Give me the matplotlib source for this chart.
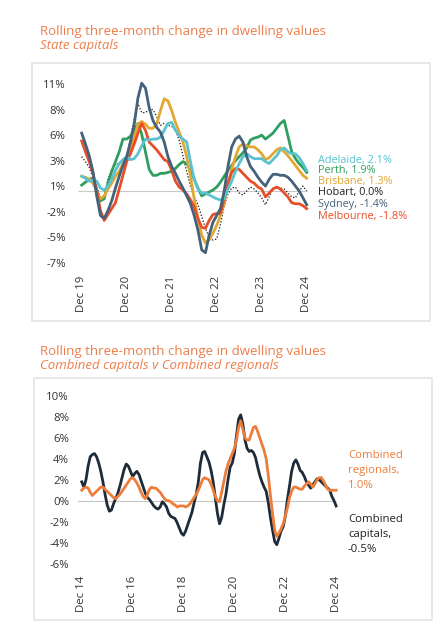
import matplotlib
matplotlib.use("Agg")
import matplotlib.pyplot as plt
import numpy as np

plt.rcParams['font.family'] = ['Open Sans', 'DejaVu Sans']

# ---------------- Data: state capitals, monthly Dec 2019 - Dec 2024 ----------------
cap_x_ticklabels = ["Dec 19", "Dec 20", "Dec 21", "Dec 22", "Dec 23", "Dec 24"]
cap_y_ticks = [-7.3, -4.7, -2.1, 0.5, 3.1, 5.7, 8.3, 10.9]
cap_y_ticklabels = ["-7%", "-5%", "-2%", "1%", "3%", "6%", "8%", "11%"]

sydney = [5.9, 4.8, 3.6, 2.0, -0.5, -2.5, -2.8, -2.0, -1.0, 0.3, 1.5, 2.6, 3.5, 5.0, 6.8, 9.5,
          11.0, 10.5, 8.5, 7.2, 6.5, 6.0, 5.0, 3.5, 2.5, 1.8, 1.0, 0.3, -0.5, -1.3, -2.5, -4.0,
          -6.0, -6.3, -4.5, -3.2, -2.5, -1.8, 0.0, 2.5, 4.5, 5.3, 5.6, 5.0, 3.5, 2.5, 2.0, 1.4,
          0.9, 0.5, 1.2, 1.7, 1.7, 1.6, 1.6, 1.4, 1.0, 0.5, 0.0, -0.7, -1.4]
melbourne = [5.1, 4.0, 3.0, 1.8, 0.0, -2.0, -3.0, -2.4, -1.8, -1.2, 0.2, 1.6, 3.0, 3.8, 4.8, 5.9,
             6.9, 6.2, 5.0, 4.6, 4.2, 3.7, 3.2, 3.0, 2.1, 1.0, 0.4, 0.1, -0.3, -0.9, -1.6, -2.8,
             -3.7, -3.8, -3.0, -2.4, -2.3, -2.3, -0.8, 0.8, 1.9, 2.3, 2.2, 1.8, 1.4, 1.0, 0.8, 0.4,
             0.2, -0.6, -0.2, 0.2, 0.4, 0.2, -0.2, -0.6, -1.2, -1.3, -1.3, -1.5, -1.8]
brisbane = [1.5, 1.4, 1.2, 0.8, 0.0, -0.8, -0.5, 0.2, 0.8, 1.5, 2.0, 2.8, 3.5, 4.3, 5.5, 6.8,
            7.1, 6.8, 6.4, 6.4, 6.8, 8.2, 9.4, 9.2, 8.2, 7.0, 6.0, 5.0, 3.5, 1.5, -0.8, -2.8,
            -4.5, -5.3, -5.0, -4.3, -3.5, -2.5, -1.3, 0.6, 2.2, 3.5, 4.5, 4.8, 4.6, 4.5, 4.5, 4.2,
            3.8, 3.2, 3.4, 3.8, 4.2, 4.4, 4.0, 3.6, 3.1, 2.6, 2.1, 1.6, 1.3]
perth = [0.6, 0.9, 1.2, 1.3, 0.0, -1.0, -0.8, 0.8, 2.0, 3.0, 4.0, 5.3, 5.3, 5.6, 6.2, 6.9,
         5.8, 4.0, 2.2, 1.6, 1.6, 1.8, 1.8, 1.9, 2.0, 2.3, 2.7, 3.0, 2.8, 2.2, 1.2, 0.3,
         -0.5, -0.3, -0.1, 0.1, 0.4, 0.9, 1.5, 2.1, 2.6, 3.1, 3.5, 3.9, 4.4, 5.2, 5.4, 5.5,
         5.7, 5.3, 5.6, 5.9, 6.4, 6.9, 7.2, 5.6, 4.0, 3.3, 2.8, 2.4, 1.9]
adelaide = [1.5, 1.3, 1.0, 1.1, 1.0, 0.3, 0.1, 0.5, 1.2, 2.1, 2.8, 3.2, 3.5, 3.2, 3.3, 3.8,
            4.6, 5.3, 5.2, 5.3, 5.3, 5.5, 6.2, 6.9, 7.0, 6.2, 5.6, 5.3, 5.0, 3.0, 1.2, 0.2,
            -0.2, -0.2, -0.4, -0.6, -0.8, -0.9, -0.8, 0.2, 1.0, 2.0, 2.8, 3.5, 3.8, 3.5, 3.3, 3.3,
            3.3, 3.0, 2.8, 3.2, 3.6, 4.2, 4.4, 4.0, 3.8, 3.8, 3.4, 2.8, 2.1]
hobart = [3.5, 3.0, 2.4, 1.4, 0.4, -0.6, -0.6, 1.2, 2.2, 2.7, 2.8, 3.0, 3.5, 5.5, 7.4, 8.9,
          8.0, 8.0, 8.3, 8.3, 7.6, 6.7, 6.9, 6.7, 6.6, 6.2, 5.2, 3.6, 2.0, 0.5, -0.6, -1.4,
          -2.6, -3.8, -4.8, -5.0, -4.9, -3.4, -1.5, -0.3, 0.3, 0.4, -0.2, -0.4, 0.0, 0.4, 0.2, -0.2,
          -0.7, -1.4, -0.6, 0.3, 0.4, 0.3, 0.2, -0.2, -0.6, -0.7, 0.0, 0.5, 0.0]

cap_labels = ["Adelaide, 2.1%", "Perth, 1.9%", "Brisbane, 1.3%", "Hobart, 0.0%",
              "Sydney, -1.4%", "Melbourne, -1.8%"]

# ---------------- Data: combined, monthly Dec 2014 - Dec 2024 ----------------
comb_x_ticklabels = ["Dec 14", "Dec 16", "Dec 18", "Dec 20", "Dec 22", "Dec 24"]
comb_y_ticks = [-6, -4, -2, 0, 2, 4, 6, 8, 10]
comb_y_ticklabels = ["-6%", "-4%", "-2%", "0%", "2%", "4%", "6%", "8%", "10%"]

combined_capitals = [1.8, 1.3, 2.0, 3.3, 4.2, 4.4, 4.5, 4.2, 3.6, 2.8, 1.8, 0.6, -0.4, -1.0, -0.9, -0.3,
                     0.2, 0.7, 1.4, 2.2, 3.0, 3.5, 3.3, 2.8, 2.3, 2.6, 2.8, 2.5, 1.9, 1.3, 0.7, 0.3,
                     0.1, -0.2, -0.5, -0.7, -0.8, -0.6, -0.1, -0.3, -0.6, -1.2, -1.5, -1.6, -1.7, -2.1,
                     -2.6, -3.1, -3.3, -2.9, -2.3, -1.7, -1.1, -0.2, 0.6, 1.8, 3.6, 4.6, 4.7, 4.2,
                     3.7, 2.9, 1.8, 0.3, -1.2, -2.2, -1.6, -0.4, 0.6, 2.0, 3.2, 3.6, 4.5, 6.2, 7.8,
                     8.2, 7.3, 5.8, 5.0, 4.7, 4.8, 4.6, 4.1, 3.2, 2.4, 1.8, 1.3, 0.9, -0.2, -1.6,
                     -2.8, -3.9, -4.2, -3.6, -2.9, -2.5, -1.5, 0.1, 1.4, 2.8, 3.6, 3.9, 3.5, 2.9,
                     2.7, 2.3, 1.8, 1.5, 1.2, 1.5, 1.8, 2.1, 2.0, 1.8, 1.6, 1.4, 1.2, 1.0, 0.4, 0.0,
                     -0.5]
combined_regionals = [1.0, 1.2, 1.3, 1.2, 0.8, 0.5, 0.7, 0.9, 1.1, 1.3, 1.3, 1.1, 0.9, 0.7, 0.5, 0.3,
                      0.2, 0.4, 0.6, 0.9, 1.2, 1.5, 1.8, 2.1, 2.2, 2.0, 1.7, 1.3, 0.8, 0.4, 0.2, 0.6,
                      1.1, 1.3, 1.2, 1.2, 1.0, 0.8, 0.5, 0.2, 0.0, 0.0, -0.1, -0.3, -0.4, -0.6,
                      -0.5, -0.5, -0.5, -0.6, -0.5, -0.3, 0.0, 0.3, 0.6, 1.0, 1.5, 2.0, 2.2, 2.1,
                      2.0, 1.6, 1.0, 0.4, 0.0, -0.1, 0.8, 1.8, 2.8, 3.5, 4.0, 4.5, 5.0, 5.8, 7.0,
                      7.6, 6.8, 6.0, 5.8, 5.8, 6.4, 7.0, 7.1, 6.6, 6.0, 5.4, 4.8, 4.0, 2.4, 0.5,
                      -1.2, -2.8, -3.4, -3.1, -2.7, -2.2, -1.5, -0.7, 0.3, 0.9, 1.3, 1.3, 1.2, 1.1,
                      1.1, 1.4, 1.6, 1.8, 1.6, 1.3, 1.6, 2.0, 2.2, 2.2, 1.9, 1.5, 1.1, 1.0, 1.0, 1.0,
                      1.0]
comb_labels = ["Combined\nregionals,\n1.0%", "Combined\ncapitals,\n-0.5%"]

# ---------------- Styling ----------------
W, H = 436, 629
ORANGE = "#EE7D4A"
TXT = "#333333"
BOX = "#E4E4E4"
c_adel, c_perth, c_bris, c_hob, c_syd, c_mel = "#5BC3D0", "#2F9E5F", "#E3A832", "#111111", "#46617A", "#E84E27"
c_capc, c_regc = "#1E2B38", "#EE7D3B"

fig = plt.figure(figsize=(W / 100, H / 100), dpi=100)
fig.patch.set_facecolor("white")

def px_rect(x0, y0, x1, y1):
    return [x0 / W, 1 - y1 / H, (x1 - x0) / W, (y1 - y0) / H]

# boxes
from matplotlib.patches import Rectangle
for (x0, y0, x1, y1) in [(32, 63, 430, 321), (34, 378, 432, 620)]:
    fig.patches.append(Rectangle((x0 / W, 1 - y1 / H), (x1 - x0) / W, (y1 - y0) / H,
                                 transform=fig.transFigure, fill=False, edgecolor=BOX, lw=1.2))

# titles
TFS = 9.5
fig.text(40 / W, 1 - 31 / H, "Rolling three-month change in dwelling values", color=ORANGE,
         fontsize=TFS, va="center", ha="left")
fig.text(40 / W, 1 - 46 / H, "State capitals", color=ORANGE, fontsize=TFS, style="italic",
         va="center", ha="left")
fig.text(40 / W, 1 - 351 / H, "Rolling three-month change in dwelling values", color=ORANGE,
         fontsize=TFS, va="center", ha="left")
fig.text(40 / W, 1 - 366 / H, "Combined capitals v Combined regionals", color=ORANGE,
         fontsize=TFS, style="italic", va="center", ha="left")

def style_axes(ax):
    for s in ax.spines.values():
        s.set_visible(False)
    ax.tick_params(length=0, colors=TXT, labelsize=8.2)
    ax.set_facecolor("none")

# ---------------- Top chart ----------------
# m=0 -> x=81.7px, 3.75 px per month; zero at 191px, 9.8 px per %
ax1 = fig.add_axes(px_rect(74.2, 75, 74.2 + 64 * 3.75, 270))
m1 = np.arange(len(sydney))
ax1.set_xlim(-2, 62)
ax1.set_ylim((191 - 270) / 9.8, (191 - 75) / 9.8)
ax1.hlines(0, -1, 60, color="#C8C8C8", lw=0.8, zorder=1)
ax1.plot(m1, hobart, color=c_hob, lw=0.9, ls=(0, (1, 1.5)), zorder=2)
ax1.plot(m1, perth, color=c_perth, lw=2.0, zorder=3)
ax1.plot(m1, brisbane, color=c_bris, lw=2.0, zorder=4)
ax1.plot(m1, melbourne, color=c_mel, lw=2.0, zorder=5)
ax1.plot(m1, adelaide, color=c_adel, lw=2.0, zorder=6)
ax1.plot(m1, sydney, color=c_syd, lw=2.0, zorder=7)
ax1.set_xticks(np.arange(0, 61, 12))
ax1.set_xticklabels(cap_x_ticklabels, rotation=90, fontsize=8.2, color="#111111")
ax1.set_yticks(cap_y_ticks)
ax1.set_yticklabels(cap_y_ticklabels)
style_axes(ax1)
ax1.tick_params(axis="y", pad=6)
ax1.tick_params(axis="x", pad=4)

label_y = [160, 171, 182, 193, 204, 217]
label_c = [c_adel, c_perth, c_bris, "#222222", c_syd, c_mel]
for t, yy, cc in zip(cap_labels, label_y, label_c):
    fig.text(318 / W, 1 - yy / H, t, color=cc, fontsize=7.8, va="center", ha="left")

# ---------------- Bottom chart ----------------
# m=0 -> 81.7px, 2.12 px per month; zero at 500.7px, 10.47 px per %
ax2 = fig.add_axes(px_rect(77.5, 390, 77.5 + 124 * 2.12, 570))
m2 = np.arange(len(combined_capitals))
ax2.set_xlim(-2, 122)
ax2.set_ylim((500.7 - 570) / 10.47, (500.7 - 390) / 10.47)
ax2.hlines(0, -2.4, 120, color="#C8C8C8", lw=0.8, zorder=1)
ax2.plot(m2, combined_capitals, color=c_capc, lw=2.0, zorder=3)
ax2.plot(m2, combined_regionals, color=c_regc, lw=2.0, zorder=4)
ax2.set_xticks(np.arange(0, 121, 24))
ax2.set_xticklabels(comb_x_ticklabels, rotation=90, fontsize=8.2, color="#111111")
ax2.set_yticks(comb_y_ticks)
ax2.set_yticklabels(comb_y_ticklabels)
style_axes(ax2)
ax2.tick_params(axis="y", pad=6)
ax2.tick_params(axis="x", pad=4)

fig.text(348 / W, 1 - 470 / H, comb_labels[0], color=c_regc, fontsize=8.2, va="center",
         ha="left", linespacing=1.5)
fig.text(348 / W, 1 - 534 / H, comb_labels[1], color="#222222", fontsize=8.2, va="center",
         ha="left", linespacing=1.5)

fig.savefig("out.png", dpi=100, facecolor="white")
